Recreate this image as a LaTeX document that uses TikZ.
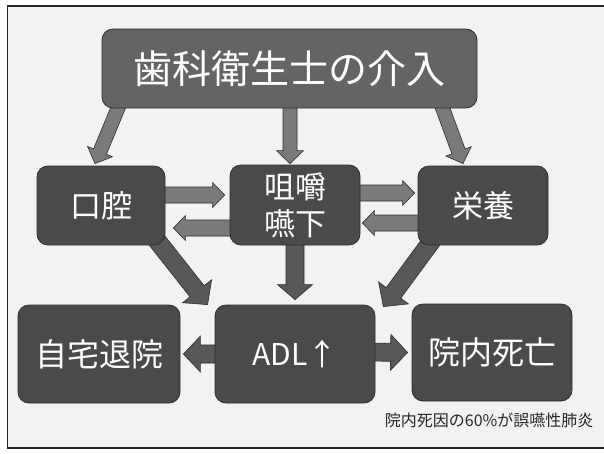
\documentclass[tikz,border=0pt]{standalone}
\usepackage{fontspec}
\setmainfont{Noto Sans CJK JP}
\usetikzlibrary{calc}
\pgfdeclarelayer{canvas}
\pgfdeclarelayer{arrows}
\pgfsetlayers{canvas,arrows,main}
\definecolor{boxc}{HTML}{4A4A4A}
\definecolor{topc}{HTML}{646464}
\definecolor{arrA}{HTML}{7A7A7A}
\definecolor{arrB}{HTML}{585858}
\definecolor{edgec}{HTML}{2E2E2E}
\definecolor{paper}{HTML}{F2F2F2}
\tikzset{
  box/.style 2 args={rounded corners=11pt, fill=boxc, draw=edgec, line width=0.8pt,
    text=white, align=center, inner sep=0pt, minimum width=#1, minimum height=#2},
  arrlight/.style={fill=arrA, draw=edgec, line width=0.6pt, line join=miter},
  arrdark/.style={fill=arrB, draw=edgec, line width=0.6pt, line join=miter},
}
% style, from, to, shaft half width, head half width, head length
\newcommand\fatarr[6]{%
  \coordinate (faB) at ($(#3)!#6!(#2)$);
  \filldraw[#1] ($(#2)!#4!90:(#3)$) -- ($(faB)!#4!-90:(#2)$) -- ($(faB)!#5!-90:(#2)$)
    -- (#3) -- ($(faB)!#5!90:(#2)$) -- ($(faB)!#4!90:(#2)$) -- ($(#2)!#4!-90:(#3)$) -- cycle;
}
\begin{document}
\begin{tikzpicture}[x=1pt,y=-1pt]
\useasboundingbox (0,0) rectangle (604,453);
\begin{pgfonlayer}{canvas}
  \fill[white] (0,0) rectangle (604,453);
  \fill[paper] (7.5,6) rectangle (604,448);
  \draw[line width=1.4pt, color=black!85] (604,6) -- (7.5,6) -- (7.5,448) -- (604,448);
\end{pgfonlayer}

\node[box={375pt}{79pt}, fill=topc, font=\fontsize{39}{41}\selectfont] (top) at (289.5,68.5) {歯科衛生士の介入};

\node[box={128pt}{79pt}, font=\fontsize{31}{33}\selectfont] (oral) at (101,205.5) {口腔};
\node[box={130pt}{80pt}, font=\fontsize{31}{37}\selectfont] (chew) at (295,205) {咀嚼\\嚥下};
\node[box={130pt}{79pt}, font=\fontsize{31}{33}\selectfont] (nutr) at (483,205.5) {栄養};

\node[box={162pt}{98pt}, font=\fontsize{32}{34}\selectfont] (home) at (99,354) {自宅退院};
\node[box={160pt}{98pt}, font=\fontsize{30}{32}\selectfont] (adl) at (295,354) {ADL↑};
\node[box={160pt}{97pt}, font=\fontsize{32}{34}\selectfont] (death) at (492,352.5) {院内死亡};

\node[anchor=east, font=\fontsize{16}{18}\selectfont, text=black!85] (cap) at (597,420) {院内死因の60\%が誤嚥性肺炎};

\begin{pgfonlayer}{arrows}
  % from the top box
  \fatarr{arrlight}{$(top.south)+(-167.5,-10)$}{$(oral.north)+(-6,-2)$}{7pt}{13.5pt}{13pt}
  \fatarr{arrlight}{$(top.south)+(0.5,-10)$}{$(chew.north)+(-5,-1)$}{7pt}{13.5pt}{13pt}
  \fatarr{arrlight}{$(top.south)+(149.5,-10)$}{$(nutr.north)+(-20,-2)$}{7pt}{13.5pt}{13pt}
  % middle row
  \fatarr{arrlight}{$(oral.east)+(-10,-10.5)$}{$(chew.west)+(-5,-10)$}{8pt}{12.5pt}{12pt}
  \fatarr{arrlight}{$(chew.west)+(10,23)$}{$(oral.east)+(8,22.5)$}{8pt}{12.5pt}{12pt}
  \fatarr{arrlight}{$(chew.east)+(-10,-12)$}{$(nutr.west)+(-3,-12.5)$}{8pt}{12.5pt}{12pt}
  \fatarr{arrlight}{$(nutr.west)+(10,17.5)$}{$(chew.east)+(2,18)$}{8pt}{12.5pt}{12pt}
  % to ADL
  \fatarr{arrdark}{$(oral.south)+(48,-15)$}{$(adl.north west)+(-7,0)$}{9pt}{18.5pt}{17pt}
  \fatarr{arrdark}{$(chew.south)+(0,-10)$}{$(adl.north)+(0,-5)$}{9pt}{17.5pt}{15pt}
  \fatarr{arrdark}{$(nutr.south)+(-45,-13)$}{$(adl.north east)+(8,2)$}{9pt}{18.5pt}{17pt}
  % from ADL
  \fatarr{arrdark}{$(adl.west)+(10,0)$}{$(home.east)+(3,0)$}{9pt}{18pt}{17pt}
  \fatarr{arrdark}{$(adl.east)+(-10,-2)$}{$(death.west)+(-4,0)$}{9pt}{18pt}{17pt}
\end{pgfonlayer}
\end{tikzpicture}
\end{document}
